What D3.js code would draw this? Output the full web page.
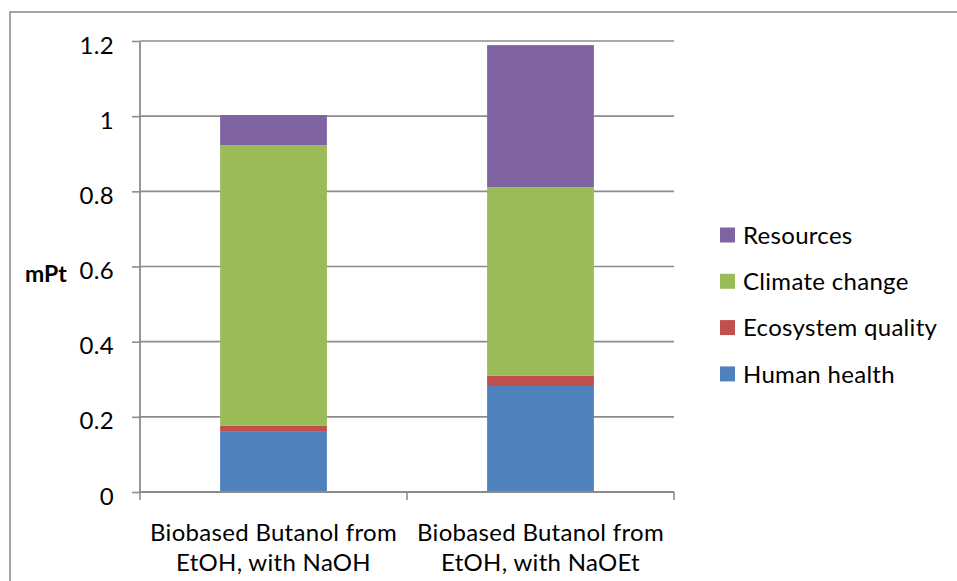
<!DOCTYPE html>
<html><head><meta charset="utf-8">
<script src="https://cdn.jsdelivr.net/npm/d3@7"></script>
<style>body{margin:0;background:#fff}svg{display:block}text{font-family:Lato,"Open Sans",sans-serif;fill:#000}</style>
</head><body><svg id="c" width="957" height="581"></svg>
<script>
const categories = [["Biobased Butanol from","EtOH, with NaOH"],["Biobased Butanol from","EtOH, with NaOEt"]];
const seriesNames = ["Human health","Ecosystem quality","Climate change","Resources"];
const humanHealth = [0.162, 0.282];
const ecosystemQuality = [0.014, 0.027];
const climateChange = [0.747, 0.502];
const resources = [0.080, 0.378];
const colors = ["#4f81bd","#c0504d","#9bbb59","#8064a2"];
const yTicks = [0,0.2,0.4,0.6,0.8,1,1.2];

const svg = d3.select("#c");
const W=957,H=581;
const L=140,R=674,T=41,B=492;
svg.append("rect").attr("x",10).attr("y",12).attr("width",W).attr("height",H).attr("fill","#fff").attr("stroke","#868686").attr("stroke-width",1.5);

const x = d3.scaleBand().domain([0,1]).range([L,R]).paddingInner(0.6).paddingOuter(0.3);
const y = d3.scaleLinear().domain([0,1.2]).range([B,T]);

// gridlines
svg.append("g").selectAll("line").data(yTicks.slice(1)).join("line")
  .attr("x1",L).attr("x2",R).attr("y1",d=>y(d)).attr("y2",d=>y(d))
  .attr("stroke","#8c8c8c").attr("stroke-width",1.6);

const rows = [0,1].map(i=>({i, "Human health":humanHealth[i],"Ecosystem quality":ecosystemQuality[i],"Climate change":climateChange[i],"Resources":resources[i]}));
const stack = d3.stack().keys(seriesNames)(rows);
svg.append("g").selectAll("g").data(stack).join("g").attr("fill",(d,k)=>colors[k])
  .selectAll("rect").data(d=>d).join("rect")
  .attr("x",d=>x(d.data.i)).attr("width",x.bandwidth())
  .attr("y",d=>y(d[1])).attr("height",d=>y(d[0])-y(d[1]));

// y axis
const ya = svg.append("g").attr("transform",`translate(${L},0)`).call(d3.axisLeft(y).tickValues(yTicks).tickSize(8).tickPadding(18).tickFormat(d3.format("~g")));
ya.select(".domain").attr("stroke","#8c8c8c").attr("stroke-width",1.8).attr("d",`M0,${T}V${B}`);
ya.selectAll(".tick line").attr("stroke","#8c8c8c").attr("stroke-width",1.6);
ya.selectAll(".tick text").attr("font-size",24).attr("font-family","Lato").attr("letter-spacing","0.3px").attr("fill","#000").attr("dy","0.5em");

// x axis
const xa = svg.append("g");
xa.append("line").attr("x1",L).attr("x2",R).attr("y1",B).attr("y2",B).attr("stroke","#8c8c8c").attr("stroke-width",1.8);
const bounds = [L, (L+R)/2, R];
xa.selectAll("line.t").data(bounds).join("line").attr("class","t")
  .attr("x1",d=>d).attr("x2",d=>d).attr("y1",B).attr("y2",B+8).attr("stroke","#8c8c8c").attr("stroke-width",1.6);
xa.selectAll("text").data(categories).join("text")
  .attr("text-anchor","middle").attr("font-size",24).attr("letter-spacing","0.3px")
  .attr("transform",(d,i)=>`translate(${x(i)+x.bandwidth()/2},0)`)
  .selectAll("tspan").data(d=>d).join("tspan")
  .attr("x",0).attr("y",(d,j)=>541+j*30).text(d=>d);

// y title
svg.append("text").attr("x",46).attr("y",282).attr("text-anchor","middle").attr("font-weight","bold").attr("font-size",23).text("mPt");

// legend
const legendOrder = [3,2,1,0];
const lg = svg.append("g").selectAll("g").data(legendOrder).join("g")
  .attr("transform",(d,j)=>`translate(720,${235+j*46.3})`);
lg.append("rect").attr("x",0).attr("y",-7.5).attr("width",15).attr("height",15).attr("fill",d=>colors[d]);
lg.append("text").attr("x",23).attr("y",0).attr("dy","0.36em").attr("font-size",24).attr("letter-spacing","0.3px").text(d=>seriesNames[d]);
</script></body></html>
